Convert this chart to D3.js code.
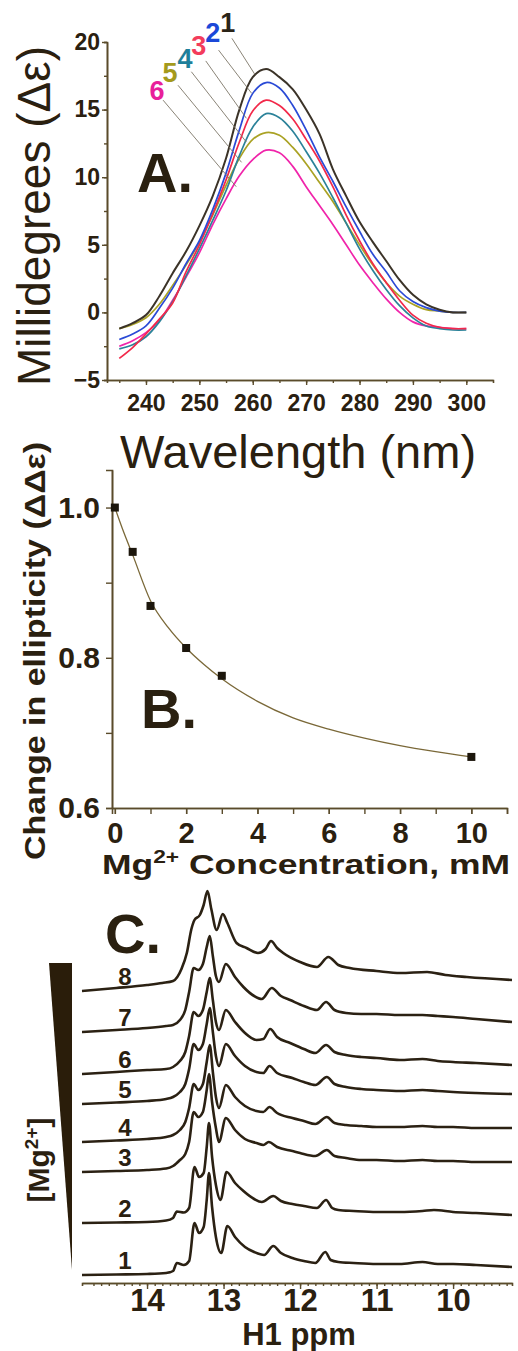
<!DOCTYPE html>
<html>
<head>
<meta charset="utf-8">
<script src="https://cdn.jsdelivr.net/npm/d3@7"></script>
<style>
  html, body { margin: 0; padding: 0; background: #fff; }
  svg { display: block; font-family: "Liberation Sans", Arial, sans-serif; }
</style>
</head>
<body>
<svg id="fig" width="518" height="1351"></svg>
<script>
// ---------- panel A: CD spectra ----------
var wavelengths = [235, 237.5, 240, 242.5, 245, 247.5, 250, 252.5, 255, 257.5, 260, 262.5, 265,
  267.5, 270, 272.5, 275, 277.5, 280, 282.5, 285, 287.5, 290, 292.5, 295, 297.5, 300];
var cd1 = [-1.2, -0.8, -0.2, 1.2, 2.9, 4.5, 6.4, 8.6, 11.4, 15.0, 17.4, 18.0, 17.4,
  16.5, 15.0, 13.2, 10.6, 8.6, 6.7, 5.2, 3.8, 2.4, 1.3, 0.6, 0.2, 0.0, 0.0];
var cd2 = [-2.0, -1.6, -1.0, 0.3, 1.8, 3.6, 5.3, 7.6, 10.3, 13.5, 16.2, 17.0, 16.6,
  15.3, 13.5, 11.5, 9.7, 7.8, 6.0, 4.3, 3.0, 1.6, 0.8, 0.35, 0.1, 0.0, 0.0];
var cd3 = [-3.4, -2.6, -1.6, -0.5, 0.7, 3.0, 5.0, 7.3, 9.8, 12.6, 14.9, 15.7, 15.3,
  14.3, 12.8, 11.2, 9.3, 7.2, 5.3, 3.6, 2.2, 0.9, -0.2, -0.8, -1.1, -1.2, -1.2];
var cd4 = [-2.7, -2.4, -1.8, -0.7, 0.8, 2.7, 4.7, 6.8, 9.0, 11.6, 13.7, 14.7, 14.4,
  13.4, 11.9, 10.3, 8.5, 6.6, 4.7, 3.1, 1.7, 0.5, -0.4, -1.0, -1.2, -1.3, -1.3];
var cd5 = [-1.2, -0.9, -0.4, 0.6, 2.0, 3.5, 5.2, 7.2, 9.4, 11.4, 12.8, 13.3, 13.1,
  12.2, 11.0, 9.6, 8.2, 6.6, 5.0, 3.5, 2.2, 1.2, 0.6, 0.2, 0.1, 0.0, 0.0];
var cd6 = [-2.5, -2.1, -1.5, -0.6, 0.9, 2.6, 4.4, 6.5, 8.4, 10.1, 11.3, 12.0, 11.8,
  10.8, 9.3, 7.9, 6.5, 5.0, 3.5, 2.2, 1.0, 0.0, -0.7, -1.0, -1.1, -1.2, -1.2];
var cdSeries = [cd1, cd2, cd3, cd4, cd5, cd6];
var cdNames = ['1', '2', '3', '4', '5', '6'];
var cdColors = ['#3b3328', '#2a4ad6', '#f2294a', '#2b8299', '#aaa224', '#f024aa'];
var cdLabelColors = ['#2a2418', '#1b48d8', '#f33c5c', '#1f7f9a', '#a49a1c', '#e8209a'];
// label anchors and leader lines, in data units (nm, mdeg)
var labelAt = [[255.3, 20.74], [252.5, 20.0], [249.9, 19.04], [247.3, 18.08], [244.5, 17.04], [242.05, 15.71]];
var leaderFrom = [[256.1, 20.27], [253.6, 19.4], [251.2, 18.6], [248.5, 17.8], [246.0, 16.8], [243.2, 15.7]];
var leaderTo = [[260.4, 17.6], [259.8, 16.2], [258.8, 14.36], [258.8, 12.6], [257.9, 11.1], [256.9, 9.3]];
var cdYTicks = [-5, 0, 5, 10, 15, 20];
var cdXTicks = [240, 250, 260, 270, 280, 290, 300];

// ---------- panel B: titration ----------
var mgConc = [0, 0.5, 1, 2, 3, 10];
var ellip = [1.0, 0.941, 0.869, 0.813, 0.776, 0.668];
var fitConc = [0, 0.25, 0.5, 1, 1.5, 2, 2.5, 3, 4, 5, 6, 7, 8, 9, 10];
var fitEllip = [1.0, 0.967, 0.937, 0.876, 0.840, 0.813, 0.791, 0.772, 0.742, 0.720, 0.705, 0.693, 0.683, 0.675, 0.668];
var bYTicks = [0.6, 0.8, 1.0];
var bXTicks = [0, 2, 4, 6, 8, 10];

// ---------- panel C: imino proton NMR, [ppm, intensity] ----------
var nmr1 = [[14.85,0],[14.4,0.5],[14.0,1],[13.75,2],[13.66,4],[13.61,12],[13.52,10],[13.45,14],[13.38,52],[13.32,42],[13.26,48],[13.22,75],[13.19,102],[13.15,68],[13.1,38],[13.03,22],[12.95,49],[12.85,38],[12.72,28],[12.6,23],[12.47,20],[12.35,29],[12.25,22],[12.1,17],[11.95,14],[11.8,12],[11.67,23],[11.6,15],[11.5,13],[11.3,12],[11.0,11],[10.7,11],[10.4,13],[10.2,11],[10.0,11],[9.7,10],[9.23,8]];
var nmr2 = [[14.85,0],[14.4,0.5],[14.0,1],[13.75,2.5],[13.66,5],[13.61,11.5],[13.52,10.5],[13.45,15],[13.38,56],[13.32,46],[13.26,50],[13.22,76],[13.19,100],[13.15,66],[13.1,38],[13.04,23],[12.96,51],[12.85,40],[12.74,32],[12.6,24],[12.5,21],[12.35,27],[12.25,22],[12.1,19],[11.95,17],[11.78,15],[11.66,23],[11.58,15],[11.5,13],[11.3,12],[11.0,11],[10.7,11],[10.4,12],[10.25,13],[10.0,11],[9.7,10],[9.23,8]];
var nmr3 = [[14.85,0],[14.4,1],[14.0,2],[13.75,3.5],[13.66,6],[13.57,12],[13.5,18],[13.45,30],[13.39,60],[13.33,55],[13.27,60],[13.22,82],[13.19,98],[13.15,70],[13.1,44],[13.06,30],[12.97,54],[12.85,42],[12.72,33],[12.57,29],[12.48,27],[12.41,30],[12.3,25],[12.1,21],[12.0,19],[11.8,16],[11.65,22],[11.55,16],[11.4,14],[11.2,12],[11.0,12],[10.7,11],[10.4,12],[10.2,11],[10.0,11],[9.7,10],[9.23,10]];
var nmr4 = [[14.85,0],[14.4,1.5],[14.0,3],[13.75,5],[13.66,7],[13.57,12],[13.5,20],[13.45,34],[13.39,58],[13.33,52],[13.27,58],[13.22,80],[13.18,97],[13.14,70],[13.1,45],[13.06,34],[12.97,57],[12.85,45],[12.72,36],[12.57,31],[12.48,30],[12.4,35],[12.3,29],[12.1,24],[11.95,21],[11.8,18],[11.65,25],[11.55,19],[11.4,17],[11.2,16],[11.0,15],[10.7,15],[10.4,16],[10.2,15],[10.0,15],[9.7,14],[9.23,14]];
var nmr5 = [[14.85,0],[14.4,1.5],[14.0,3],[13.75,5],[13.66,7],[13.57,12],[13.5,20],[13.45,35],[13.39,60],[13.33,54],[13.27,60],[13.22,80],[13.18,96],[13.14,72],[13.1,48],[13.06,38],[12.97,60],[12.85,48],[12.72,38],[12.57,32],[12.48,31],[12.4,38],[12.3,31],[12.1,26],[11.95,22],[11.8,19],[11.65,27],[11.55,20],[11.4,17],[11.2,15],[11.0,14],[10.7,13],[10.4,14],[10.2,13],[10.0,12],[9.7,11],[9.23,10]];
var nmr6 = [[14.85,0],[14.4,2],[14.0,4],[13.75,5],[13.66,7],[13.57,13],[13.5,22],[13.45,38],[13.39,62],[13.33,58],[13.27,64],[13.22,82],[13.18,96],[13.14,74],[13.1,52],[13.06,44],[12.97,64],[12.85,52],[12.72,41],[12.57,34],[12.48,35],[12.39,45],[12.3,37],[12.13,31],[11.95,25],[11.8,21],[11.66,29],[11.55,22],[11.4,19],[11.2,17],[11.0,16],[10.7,14],[10.4,15],[10.2,13],[10.0,12],[9.7,11],[9.23,9]];
var nmr7 = [[14.85,0],[14.4,2],[14.0,4],[13.75,6],[13.66,7],[13.57,12],[13.5,22],[13.45,40],[13.39,64],[13.33,62],[13.27,68],[13.22,85],[13.18,96],[13.14,76],[13.1,56],[13.06,50],[12.97,68],[12.85,55],[12.74,45],[12.6,36],[12.5,33],[12.37,44],[12.25,36],[12.13,32],[11.95,26],[11.78,22],[11.66,30],[11.55,22],[11.4,19],[11.2,18],[11.0,18],[10.7,17],[10.4,17],[10.2,16],[10.0,15],[9.7,13],[9.23,10]];
var nmr8 = [[14.85,0],[14.4,3],[14.0,6],[13.8,8],[13.66,10],[13.55,22],[13.48,38],[13.42,62],[13.38,71],[13.31,76],[13.26,86],[13.21,100],[13.16,82],[13.09,61],[13.01,77],[12.95,68],[12.83,48],[12.7,43],[12.55,38],[12.45,42],[12.38,50],[12.3,43],[12.22,38],[12.0,29],[11.78,24],[11.63,34],[11.5,26],[11.35,23],[11.0,20],[10.69,18],[10.34,19],[10.1,16],[9.82,14],[9.23,11]];
var nmrSeries = [nmr1, nmr2, nmr3, nmr4, nmr5, nmr6, nmr7, nmr8];
var nmrOffsets = [3, 55, 106, 136, 174, 204, 246, 287];
var nmrNames = ['1', '2', '3', '4', '5', '6', '7', '8'];
var ppmTicks = [14, 13, 12, 11, 10];

var ink = '#2a2010';
var axisInk = '#5a4b2b';
var svg = d3.select('#fig');

function styleAxis(g) {
  g.selectAll('path.domain').attr('stroke', axisInk).attr('stroke-width', 1.6);
  g.selectAll('.tick line').attr('stroke', axisInk).attr('stroke-width', 1.4);
  g.selectAll('.tick text').attr('fill', ink).attr('font-weight', 'bold');
}

// ================= A =================
var xA = d3.scaleLinear().domain([232.7, 305]).range([107, 493]);
var yA = d3.scaleLinear().domain([-5, 20]).range([380, 42]);
var gA = svg.append('g');

gA.append('g').attr('transform', 'translate(0,380)')
  .call(d3.axisBottom(xA).tickValues(d3.range(235, 305, 5)).tickSize(3).tickFormat(''))
  .call(styleAxis);
gA.append('g').attr('transform', 'translate(0,380)')
  .call(d3.axisBottom(xA).tickValues(cdXTicks).tickSize(5).tickPadding(10).tickSizeOuter(0))
  .call(styleAxis)
  .call(function (g) { g.selectAll('text').attr('font-size', 23); });
gA.append('g').attr('transform', 'translate(107,0)')
  .call(d3.axisLeft(yA).tickValues(d3.range(-5, 20.1, 2.5)).tickSize(3).tickFormat(''))
  .call(styleAxis);
gA.append('g').attr('transform', 'translate(107,0)')
  .call(d3.axisLeft(yA).tickValues(cdYTicks).tickSize(5).tickPadding(2).tickSizeOuter(0))
  .call(styleAxis)
  .call(function (g) { g.selectAll('text').attr('font-size', 23); });

var lineA = d3.line()
  .x(function (d, i) { return xA(wavelengths[i]); })
  .y(function (d) { return yA(d); })
  .curve(d3.curveCatmullRom);

// draw the lower traces first so black sits on top
for (var s = cdSeries.length - 1; s >= 0; s -= 1) {
  gA.append('path')
    .attr('d', lineA(cdSeries[s]))
    .attr('fill', 'none')
    .attr('stroke', cdColors[s])
    .attr('stroke-width', s === 0 ? 2 : 1.7);
}

cdNames.forEach(function (n, i) {
  gA.append('line')
    .attr('x1', xA(leaderFrom[i][0])).attr('y1', yA(leaderFrom[i][1]))
    .attr('x2', xA(leaderTo[i][0])).attr('y2', yA(leaderTo[i][1]))
    .attr('stroke', '#7d7668').attr('stroke-width', 0.9);
  gA.append('text')
    .attr('x', xA(labelAt[i][0])).attr('y', yA(labelAt[i][1]))
    .attr('text-anchor', 'middle')
    .attr('font-size', 27).attr('font-weight', 'bold')
    .attr('fill', cdLabelColors[i])
    .text(n);
});

gA.append('text').attr('x', 137).attr('y', 192)
  .attr('font-size', 56).attr('font-weight', 'bold').attr('fill', ink).text('A.');
gA.append('text').attr('x', 298).attr('y', 468).attr('text-anchor', 'middle')
  .attr('font-size', 47).attr('fill', ink).text('Wavelength (nm)');
gA.append('text').attr('transform', 'translate(50,216) rotate(-90)')
  .attr('text-anchor', 'middle').attr('font-size', 46).attr('fill', ink)
  .text('Millidegrees (Δε)');

// ================= B =================
var xB = d3.scaleLinear().domain([-0.08, 11]).range([112, 507]);
var yB = d3.scaleLinear().domain([0.6, 1.05]).range([808, 470]);
var gB = svg.append('g');

gB.append('g').attr('transform', 'translate(0,808)')
  .call(d3.axisBottom(xB).tickValues(d3.range(0, 12, 1)).tickSize(6).tickFormat(''))
  .call(styleAxis);
gB.append('g').attr('transform', 'translate(0,808)')
  .call(d3.axisBottom(xB).tickValues(bXTicks).tickSize(6).tickPadding(8).tickSizeOuter(0))
  .call(styleAxis)
  .call(function (g) { g.selectAll('text').attr('font-size', 29); });
gB.append('g').attr('transform', 'translate(112,0)')
  .call(d3.axisLeft(yB).tickValues([0.7, 0.9]).tickSize(6).tickFormat(''))
  .call(styleAxis);
gB.append('g').attr('transform', 'translate(112,0)')
  .call(d3.axisLeft(yB).tickValues(bYTicks).tickSize(6).tickPadding(6).tickSizeOuter(0)
    .tickFormat(d3.format('.1f')))
  .call(styleAxis)
  .call(function (g) { g.selectAll('text').attr('font-size', 30); });

var lineB = d3.line()
  .x(function (d, i) { return xB(fitConc[i]); })
  .y(function (d) { return yB(d); })
  .curve(d3.curveMonotoneX);
gB.append('path').attr('d', lineB(fitEllip))
  .attr('fill', 'none').attr('stroke', '#7a6838').attr('stroke-width', 1.3);

gB.selectAll('rect.pt').data(mgConc).enter().append('rect')
  .attr('class', 'pt')
  .attr('x', function (d) { return xB(d) - 4; })
  .attr('y', function (d, i) { return yB(ellip[i]) - 4; })
  .attr('width', 8).attr('height', 8)
  .attr('fill', '#1c160c');

gB.append('text').attr('x', 141).attr('y', 728)
  .attr('font-size', 56).attr('font-weight', 'bold').attr('fill', ink).text('B.');

var bx = gB.append('text').attr('x', 306).attr('y', 874).attr('text-anchor', 'middle')
  .attr('font-size', 28).attr('font-weight', 'bold').attr('fill', ink)
  .attr('textLength', 408).attr('lengthAdjust', 'spacingAndGlyphs');
bx.append('tspan').text('Mg');
bx.append('tspan').attr('dy', -11).attr('font-size', 18).text('2+');
bx.append('tspan').attr('dy', 11).text(' Concentration, mM');

gB.append('text').attr('transform', 'translate(45,651) rotate(-90)')
  .attr('text-anchor', 'middle').attr('font-size', 30).attr('font-weight', 'bold')
  .attr('fill', ink).attr('textLength', 418).attr('lengthAdjust', 'spacingAndGlyphs')
  .text('Change in ellipticity (ΔΔε)');

// ================= C =================
var xC = d3.scaleLinear().domain([14.85, 9.23]).range([82, 512]);
var yC = d3.scaleLinear().domain([0, 300]).range([1278, 978]);
var gC = svg.append('g');

gC.append('g').attr('transform', 'translate(0,1283)')
  .call(d3.axisBottom(xC).tickValues(d3.range(93, 148, 1).map(function (v) { return v / 10; }))
    .tickSize(3).tickFormat(''))
  .call(styleAxis);
gC.append('g').attr('transform', 'translate(0,1283)')
  .call(d3.axisBottom(xC).tickValues(ppmTicks).tickSize(6).tickPadding(0).tickSizeOuter(0)
    .tickFormat(d3.format('d')))
  .call(styleAxis)
  .call(function (g) { g.selectAll('text').attr('font-size', 31); });

nmrSeries.forEach(function (trace, i) {
  var off = nmrOffsets[i];
  var lineC = d3.line()
    .x(function (d) { return xC(d[0]); })
    .y(function (d) { return yC(d[1] + off); })
    .curve(d3.curveMonotoneX);
  gC.append('path').attr('d', lineC(trace))
    .attr('fill', 'none').attr('stroke', '#2b2113')
    .attr('stroke-width', 2.6).attr('stroke-linejoin', 'round');
  gC.append('text')
    .attr('x', xC(14.29)).attr('y', yC(off + 6))
    .attr('text-anchor', 'middle').attr('font-size', 24).attr('font-weight', 'bold')
    .attr('fill', ink).text(nmrNames[i]);
});

// wedge showing increasing [Mg2+]
gC.append('path')
  .attr('d', 'M49,963 L72,963 L72,1270 Z')
  .attr('fill', '#2a1d0a');

var mgLabel = gC.append('text').attr('transform', 'translate(49,1160) rotate(-90)')
  .attr('text-anchor', 'middle').attr('font-size', 30).attr('font-weight', 'bold')
  .attr('fill', ink);
mgLabel.append('tspan').text('[Mg');
mgLabel.append('tspan').attr('dy', -11).attr('font-size', 19).text('2+');
mgLabel.append('tspan').attr('dy', 11).text(']');

gC.append('text').attr('x', 105).attr('y', 953)
  .attr('font-size', 56).attr('font-weight', 'bold').attr('fill', ink).text('C.');
gC.append('text').attr('x', 299).attr('y', 1345).attr('text-anchor', 'middle')
  .attr('font-size', 31).attr('font-weight', 'bold').attr('fill', ink).text('H1 ppm');
</script>
</body>
</html>
